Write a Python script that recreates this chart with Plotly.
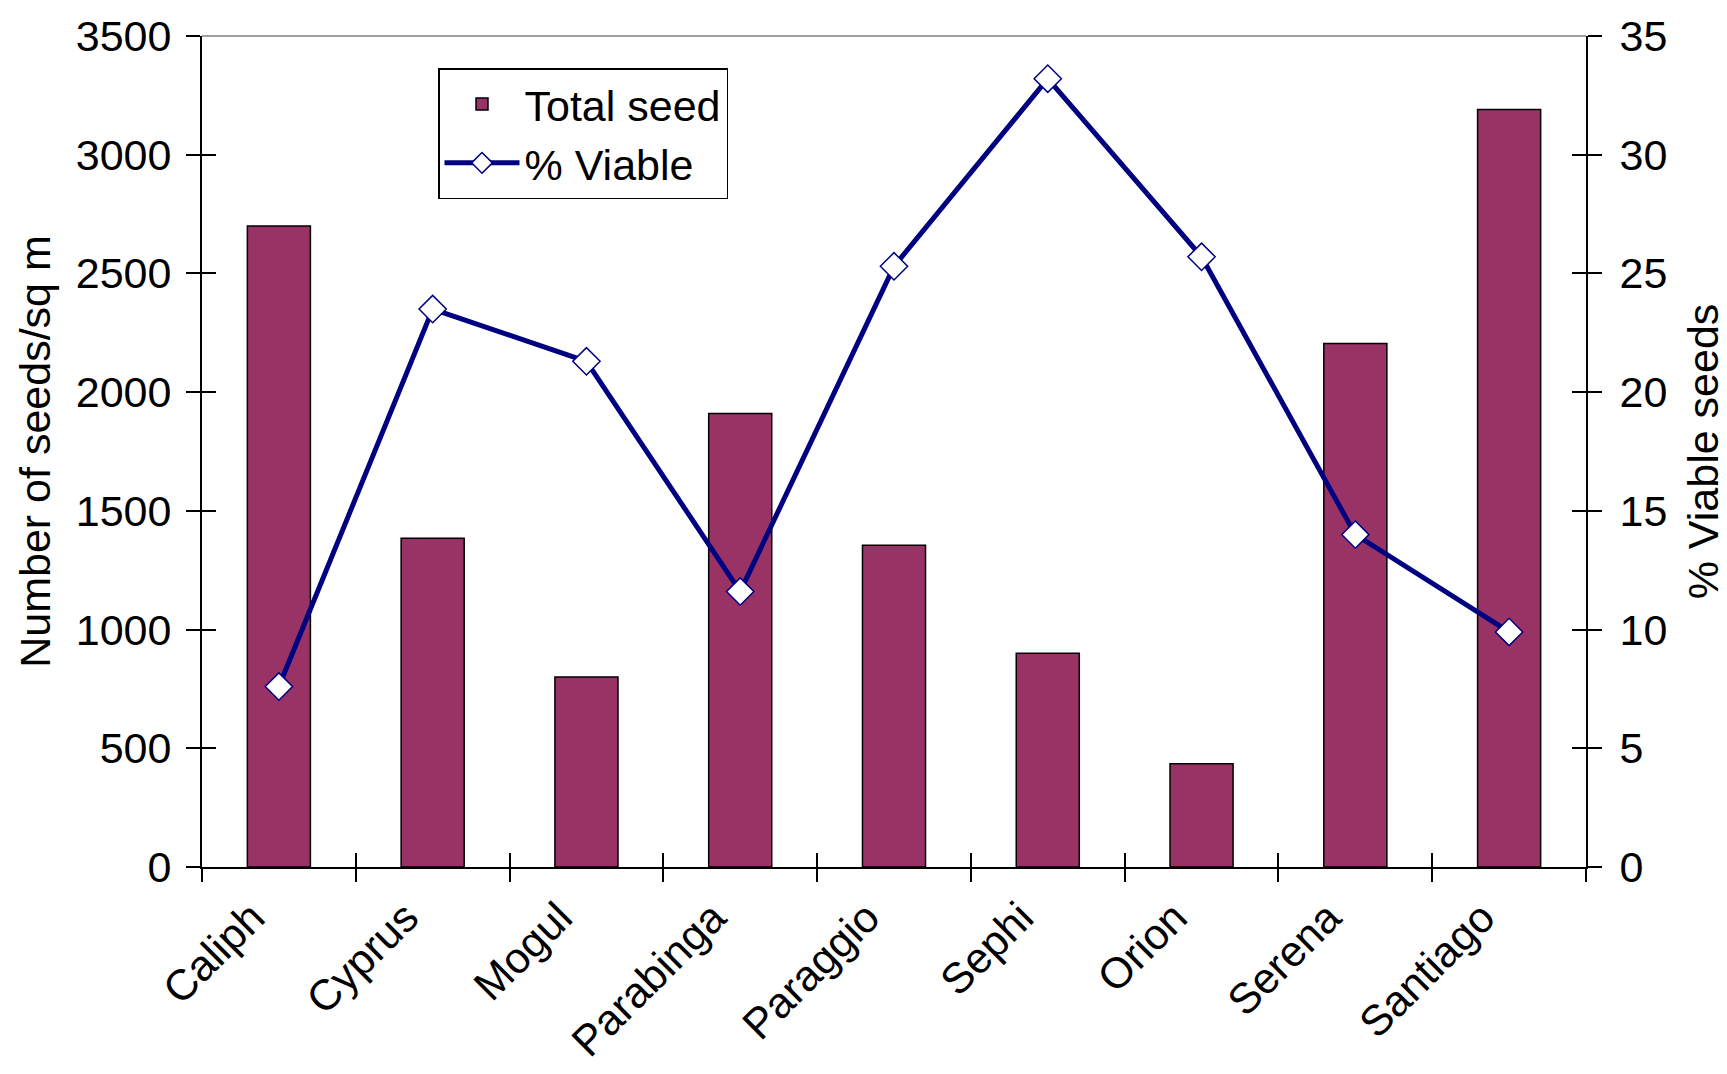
import plotly.graph_objects as go

categories = ["Caliph", "Cyprus", "Mogul", "Parabinga", "Paraggio", "Sephi", "Orion", "Serena", "Santiago"]
total_seed = [2700, 1385, 800, 1910, 1355, 900, 435, 2205, 3190]
pct_viable = [7.6, 23.5, 21.3, 11.6, 25.3, 33.2, 25.7, 14.0, 9.9]
left_ticks = [0, 500, 1000, 1500, 2000, 2500, 3000, 3500]
right_ticks = [0, 5, 10, 15, 20, 25, 30, 35]

FONT = "Arial, Liberation Sans, sans-serif"
FS = 43
n = len(categories)
bounds = [i - 0.5 for i in range(n + 1)]

fig = go.Figure()
fig.add_trace(go.Bar(
    x=categories, y=total_seed, name="Total seed", legendgroup="a",
    marker=dict(color="#993366", line=dict(color="black", width=1.5)),
    width=0.41, xaxis="x", yaxis="y",
))
fig.add_trace(go.Scatter(
    x=categories, y=pct_viable, name="% Viable", mode="lines+markers", legendgroup="b",
    line=dict(color="#000080", width=5),
    marker=dict(symbol="diamond", size=21, color="white", line=dict(color="#000080", width=1.5)),
    xaxis="x", yaxis="y2",
))
# empty helper traces so the tick-only overlay axes are drawn (cross ticks)
fig.add_trace(go.Scatter(x=[], y=[], xaxis="x2", yaxis="y3", showlegend=False, hoverinfo="skip"))
fig.add_trace(go.Scatter(x=[], y=[], xaxis="x3", yaxis="y4", showlegend=False, hoverinfo="skip"))

tickfont = dict(family=FONT, size=FS, color="black")
tick_only = dict(ticklen=14, tickwidth=2, tickcolor="black", showticklabels=False,
                 showgrid=False, zeroline=False, showline=False, automargin=False)
fig.update_layout(
    width=1727, height=1074,
    margin=dict(l=202, r=141, t=36, b=207, autoexpand=False),
    paper_bgcolor="white", plot_bgcolor="white",
    font=dict(family=FONT, size=FS, color="black"),
    showlegend=True,
    legend=dict(
        x=(438 - 202) / 1384, y=1 - (68 - 36) / 831, xanchor="left", yanchor="top",
        bordercolor="black", borderwidth=1.5, bgcolor="white",
        font=dict(family=FONT, size=FS, color="black"),
        itemwidth=75, traceorder="grouped", tracegroupgap=0,
    ),
    xaxis=dict(
        type="category", categoryorder="array", categoryarray=categories,
        range=[-0.5, n - 0.5], showgrid=False, zeroline=False,
        showline=True, linecolor="black", linewidth=2, automargin=False,
        ticks="", tickangle=-45, tickfont=dict(family=FONT, size=43, color="black"),
        ticklabelstandoff=6, ticklabelshift=-27,
    ),
    xaxis2=dict(overlaying="x", anchor="y", type="linear", range=[-0.5, n - 0.5],
                tickvals=bounds, ticks="outside", **tick_only),
    xaxis3=dict(overlaying="x", anchor="y", type="linear", range=[-0.5, n - 0.5],
                tickvals=bounds, ticks="inside", **tick_only),
    yaxis=dict(
        range=[0, 3500], tickvals=left_ticks, showgrid=False, zeroline=False,
        showline=True, linecolor="black", linewidth=2, automargin=False,
        ticks="outside", ticklen=14, tickwidth=2, tickcolor="black",
        tickfont=tickfont, ticklabelstandoff=6,
        title=dict(text="Number of seeds/sq m", font=dict(family=FONT, size=FS, color="black"), standoff=12),
    ),
    yaxis2=dict(
        overlaying="y", side="right", anchor="x", range=[0, 35], tickvals=right_ticks,
        showgrid=False, zeroline=False, automargin=False,
        showline=True, linecolor="black", linewidth=2,
        ticks="outside", ticklen=14, tickwidth=2, tickcolor="black",
        tickfont=tickfont, ticklabelstandoff=9,
        title=dict(text="% Viable seeds", font=dict(family=FONT, size=FS, color="black"), standoff=24),
    ),
    yaxis3=dict(overlaying="y", side="left", anchor="x", range=[0, 3500], tickvals=left_ticks,
                ticks="inside", **tick_only),
    yaxis4=dict(overlaying="y", side="right", anchor="x", range=[0, 35], tickvals=right_ticks,
                ticks="inside", **tick_only),
    shapes=[dict(type="line", xref="paper", yref="paper", x0=0, x1=1, y0=1, y1=1,
                 line=dict(color="#808080", width=1.5))],
)

fig.write_html("out.html", config={"displayModeBar": False},
               post_script="document.body.style.margin='0';document.body.style.overflow='hidden';")
